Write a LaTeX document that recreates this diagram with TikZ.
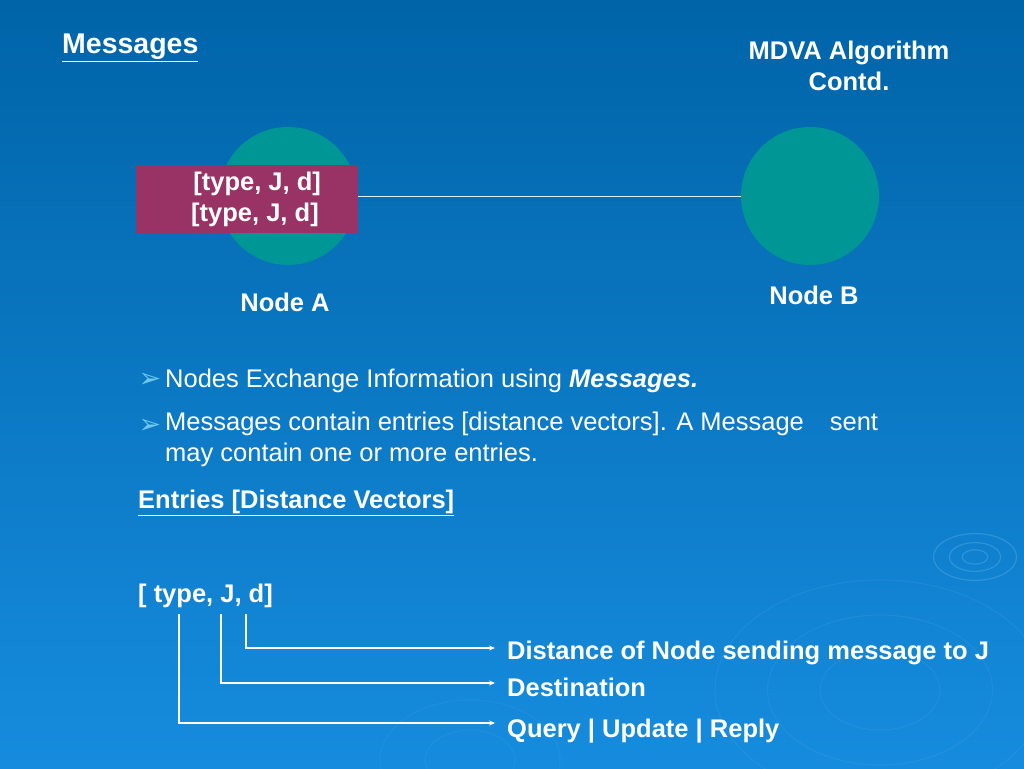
\documentclass[tikz,border=0pt]{standalone}
\usepackage{fontspec}
\setmainfont{Liberation Sans}
\newfontfamily\dejavu{DejaVu Sans}
\usetikzlibrary{arrows.meta}
\definecolor{bgtop}{RGB}{0,100,168}
\definecolor{bgbot}{RGB}{22,140,222}
\definecolor{teal}{RGB}{0,150,150}
\definecolor{plum}{RGB}{153,51,102}
\definecolor{bulletc}{RGB}{110,200,240}
\definecolor{ripple}{RGB}{90,175,235}
\tikzset{
  txt/.style={text=white, font=\fontsize{25.5}{31}\selectfont, inner sep=0pt},
  btxt/.style={text=white, font=\fontsize{25.5}{31}\selectfont\bfseries, inner sep=0pt},
  nodecirc/.style={circle, fill=teal, minimum size=138pt, inner sep=0pt},
  msgbox/.style={rectangle, fill=plum, minimum width=222pt, minimum height=68pt, inner sep=0pt},
  link/.style={draw=white, line width=1.1pt, -{Stealth[length=6pt,width=5pt]}},
  rip/.style={draw=ripple, line width=1.2pt, opacity=0.4},
  bul/.style={text=bulletc, font=\dejavu\fontsize{27}{30}\selectfont, inner sep=0pt}
}
\begin{document}
\begin{tikzpicture}[x=1pt,y=-1pt]
\useasboundingbox (0,0) rectangle (1024,768);
\shade[top color=bgtop, bottom color=bgbot] (0,0) rectangle (1024,768);
% background ripples
\foreach \r in {8,16,26} \draw[rip] (975,557) ellipse ({1.6*\r} and {\r*0.9});
\foreach \r in {40,75,110} \draw[rip, opacity=0.15] (880,690) ellipse ({1.5*\r} and {\r});
\foreach \r in {30,60} \draw[rip, opacity=0.12] (470,760) ellipse ({1.5*\r} and {\r});
% title texts
\node[btxt, anchor=west, font=\fontsize{28.5}{33}\selectfont\bfseries] (title) at (62,48) {\underline{Messages}};
\node[btxt, align=center] (mdva) at (849,66) {MDVA Algorithm\\Contd.};
% nodes
\node[nodecirc] (A) at (288,196) {};
\node[nodecirc] (B) at (810,196) {};
\node[msgbox] (msg) at (247,199) {};
\node[btxt, align=center] (msgtxt) at (255,199) {\,[type, J, d]\\\relax{[type, J, d]}};
\draw[draw=white!85!cyan, line width=1pt] (msg.east |- B.west) -- (B.west);
\node[btxt] (la) at (285,302) {Node A};
\node[btxt] (lb) at (814,295) {Node B};
% bullets
\node[bul] (b1) at (150,380) {➢};
\node[txt, anchor=west] (t1) at (165,381) {Nodes Exchange Information using \textbf{\itshape Messages.}};
\node[bul] (b2) at (150,426) {➢};
\node[txt, anchor=north west, align=left] (t2) at (165,412) {Messages contain entries [distance vectors]. A Message\hspace{26pt}sent\\may contain one or more entries.};
\node[btxt, anchor=west] (entries) at (138,503) {\underline{Entries [Distance Vectors]}};
\node[btxt, anchor=west] (tuple) at (138,596) {[ type, J, d]};
% labels
\node[btxt, anchor=west] (ld) at (507,653) {Distance of Node sending message to J};
\node[btxt, anchor=west] (lj) at (507,687) {Destination};
\node[btxt, anchor=west] (lt) at (507,731) {Query | Update | Reply};
\coordinate (cd) at (246,614);
\coordinate (cj) at (221,614);
\coordinate (ct) at (179,614);
\draw[link] (cd) |- ([xshift=-12pt,yshift=5pt]ld.west);
\draw[link] (cj) |- ([xshift=-12pt,yshift=4pt]lj.west);
\draw[link] (ct) |- ([xshift=-12pt,yshift=8pt]lt.west);
\end{tikzpicture}
\end{document}
